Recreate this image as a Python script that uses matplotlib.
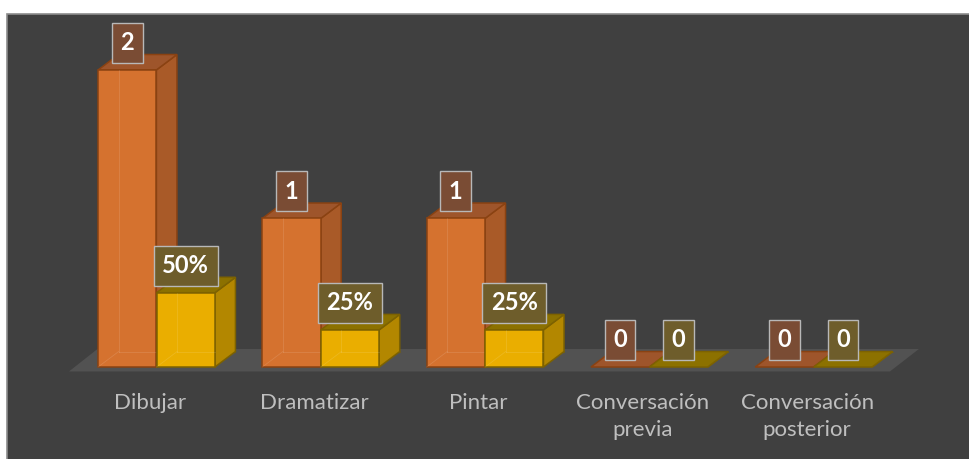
import matplotlib
matplotlib.use('Agg')
import matplotlib.pyplot as plt
from matplotlib.patches import Polygon, Rectangle

# ---- data ----
categories = ['Dibujar', 'Dramatizar', 'Pintar', 'Conversación\nprevia', 'Conversación\nposterior']
counts = [2, 1, 1, 0, 0]
percents = [50, 25, 25, 0, 0]
count_labels = [str(c) for c in counts]
percent_labels = [f'{p}%' if p else '0' for p in percents]

# ---- style ----
BG = '#404040'
FLOOR = '#525252'
OR_FRONT, OR_SIDE, OR_TOP, OR_EDGE = '#d5722f', '#a95a28', '#9e552b', '#8a4212'
GO_FRONT, GO_SIDE, GO_TOP, GO_EDGE = '#eaae00', '#b38700', '#8c7100', '#7d6200'
OR_BOX, GO_BOX = '#7a4c34', '#6e5d2b'
DX, DY = 0.125, 0.104          # depth offset (category units, value units)
BW = 0.355                     # bar width (category units)
OFF_OR, OFF_GO = -0.316, 0.040 # bar left offsets from category position
LAB = 0.182                    # label offset above the bar
FONT = ['Lato', 'DejaVu Sans']

fig = plt.figure(figsize=(9.69, 4.59), dpi=100)
fig.patch.set_facecolor('white')
ax = fig.add_axes([0, 0, 1, 1])
ax.set_xlim(-0.913, 4.985)
ax.set_ylim(-0.6195, 2.471)
ax.axis('off')

ax.add_patch(Rectangle((7 / 969, -0.02), 1.1, (459 - 14) / 459 + 0.02,
                       transform=ax.transAxes, facecolor=BG, edgecolor='#8c8c8c',
                       lw=1.2, zorder=0))

n = len(categories)
# floor
fx0, fx1 = -0.493, n - 1 + 0.504
ax.add_patch(Polygon([(fx0, -0.030), (fx1, -0.030), (fx1 + 0.176, 0.121),
                      (fx0 + 0.173, 0.121)], closed=True, facecolor=FLOOR,
                     edgecolor='none', zorder=1))


def draw_bar(x0, h, front, side, top, edge, z):
    x1 = x0 + BW
    lw = 1.1
    ax.plot([x0 + DX, x0 + DX], [DY, h + DY], color=edge, lw=0.8, alpha=0.5, zorder=z)
    ax.plot([x0 + DX, x1 + DX], [DY, DY], color=edge, lw=0.8, alpha=0.5, zorder=z)
    ax.add_patch(Polygon([(x1, 0), (x1 + DX, DY), (x1 + DX, h + DY), (x1, h)],
                         closed=True, facecolor=side, edgecolor=edge, lw=lw, zorder=z))
    ax.add_patch(Polygon([(x0, h), (x1, h), (x1 + DX, h + DY), (x0 + DX, h + DY)],
                         closed=True, facecolor=top, edgecolor=edge, lw=lw, zorder=z))
    if h > 0:
        ax.add_patch(Polygon([(x0, 0), (x1, 0), (x1, h), (x0, h)], closed=True,
                             facecolor=front, edgecolor=edge, lw=lw, zorder=z + 0.1))
        ax.plot([x0 + DX, x0 + DX], [DY, h], color='#ffffff', lw=0.6, alpha=0.12, zorder=z + 0.2)
        ax.plot([x0 + DX, x1], [DY, DY], color='#ffffff', lw=0.6, alpha=0.12, zorder=z + 0.2)
        ax.plot([x0, x0 + DX], [0, DY], color='#ffffff', lw=0.6, alpha=0.12, zorder=z + 0.2)


def draw_label(xc, h, s, fc):
    ax.text(xc, h + LAB, s, ha='center', va='center', fontsize=17,
            fontweight='bold', color='white', family=FONT, zorder=10,
            bbox=dict(boxstyle='square,pad=0.36', facecolor=fc,
                      edgecolor='#b8b8b8', lw=1.0))


for i in range(n):
    z = 2 + i
    h_or = counts[i]
    h_go = percents[i] / 100
    draw_bar(i + OFF_OR, h_or, OR_FRONT, OR_SIDE, OR_TOP, OR_EDGE, z)
    draw_bar(i + OFF_GO, h_go, GO_FRONT, GO_SIDE, GO_TOP, GO_EDGE, z + 0.5)

for i in range(n):
    draw_label(i + OFF_OR + BW / 2, counts[i], count_labels[i], OR_BOX)
    draw_label(i + OFF_GO + BW / 2, percents[i] / 100, percent_labels[i], GO_BOX)
    ax.text(i, -0.175, categories[i], ha='center', va='top', fontsize=16,
            color='#bfbfbf', family=FONT, linespacing=1.45, zorder=10)

fig.savefig('out.png', dpi=100, facecolor=fig.get_facecolor())
